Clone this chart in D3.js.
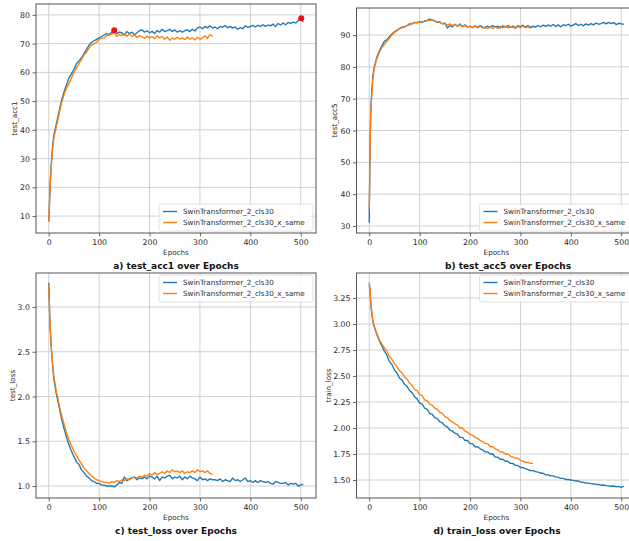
<!DOCTYPE html>
<html>
<head>
<meta charset="utf-8">
<script src="https://cdn.jsdelivr.net/npm/d3@7"></script>
<style>
  body { margin: 0; background: #fff; }
  text { font-family: "DejaVu Sans", sans-serif; fill: #2a2a2a; }
  .grid line { stroke: #d0d0d0; stroke-width: 1; }
  .frame { fill: none; stroke: #555; stroke-width: 1; }
  .title { font-weight: bold; fill: #111; }
</style>
</head>
<body>
<div class="chart"></div>
<script>
// sampled epochs (dense at start, then every 5 epochs)
var epochs = [0, 1, 2, 3, 5, 7].concat(d3.range(10, 510, 5));

var seriesNames = ['SwinTransformer_2_cls30', 'SwinTransformer_2_cls30_x_same'];
var xTicks = [0, 100, 200, 300, 400, 500];

var acc1Base = [
  8, 12, 17, 22, 28, 33, 38, 42, 46, 50,
  53, 55.5, 58, 59.5, 61, 63, 64, 65, 66.5, 68,
  69.5, 70.5, 71, 71.5, 72, 72.5, 73, 73.5, 73.2, 74,
  74.5, 73.5, 74, 73.8, 73, 74.2, 73.5, 74, 73, 73.8,
  74.5, 74.8, 74, 74.5, 73.8, 74.3, 73.5, 74.6, 74, 75,
  74.2, 74.5, 75, 74.2, 74.8, 74, 74.6, 74, 74.5, 74.8,
  74.2, 75, 74.4, 75.5, 75.8, 75.2, 76, 75.5, 76.2, 75.4,
  75.8, 75.2, 76, 75.7, 76.3, 75.5, 76, 75.4, 75.8, 75,
  75.6, 75.2, 76.2, 75.6, 76, 76.4, 75.8, 76.4, 76, 76.6,
  76, 76.5, 76.2, 76.8, 76, 77, 76.5, 77.2, 76.6, 77.4,
  77, 77.5, 77.2, 78, 78.6, 77.5
];
var acc1Same = [
  8, 12, 16, 21, 27, 32, 37, 41, 45, 49,
  52, 54.5, 56, 58, 60, 61.5, 63, 64.5, 66, 67,
  68.5, 69.5, 70, 70.5, 71.5, 72, 72, 72.8, 73, 73.3,
  73.8, 72.5, 73.2, 72.8, 73.5, 72.6, 73.4, 72.5, 73, 72.2,
  72.8, 72.4, 71.8, 72.6, 72, 72.5, 71.8, 72.7, 72, 72.5,
  71.5, 72.3, 71.2, 72, 71.5, 72.2, 71.6, 72, 71.4, 72.3,
  71.6, 72, 71.3, 72.2, 71.5, 72, 72.8, 71.8, 73.2, 72.5
];
var acc1PeakEpochs = [130, 501];
var acc1PeakValues = [74.7, 78.8];

var acc5Base = [
  31, 45, 58, 66, 72, 77, 80, 83, 85, 86.5,
  88, 88.5, 89.5, 90.3, 91, 91.5, 92, 92.5, 92.6, 93,
  93.5, 93.6, 94, 93.8, 94.2, 94, 94.5, 94.6, 95, 94.8,
  94.5, 94, 94.2, 93.5, 93.8, 92.2, 93, 92.6, 93.4, 92.8,
  93.5, 92.6, 93.2, 92.5, 92.8, 92.3, 92.9, 92.4, 93, 92.5,
  92.2, 92.8, 92.4, 93, 92.5, 92.8, 92.2, 92.9, 92.5, 93,
  92.4, 92.8, 92.3, 93, 92.6, 93.1, 92.5, 93, 92.4, 92.8,
  92.5, 93, 92.6, 93.1, 92.7, 93.2, 92.8, 93.3, 92.7, 93.2,
  92.6, 93.2, 93, 93.4, 92.8, 93.2, 93.6, 93, 93.4, 92.9,
  93.5, 93.1, 93.6, 93.2, 93.8, 93.4, 93.6, 94, 93.5, 94,
  93.6, 93.9, 93.3, 93.7, 93.5, 93.4
];
var acc5Same = [
  35, 47, 57, 65, 71, 76, 79.5, 82.5, 84.5, 86,
  87, 88, 89, 90, 90.8, 91.3, 92, 92.3, 92.5, 93,
  93.2, 93.5, 93.8, 94, 94, 94.2, 94.3, 94.5, 94.6, 94.8,
  94.3, 94.2, 94, 93.6, 93.5, 93.2, 93.5, 93, 93.3, 92.8,
  93.2, 92.7, 93, 92.5, 92.8, 92.4, 92.8, 92.2, 92.7, 92.2,
  92.6, 92.1, 92.5, 92, 92.6, 92.1, 92.7, 92.3, 92.8, 92.2,
  92.7, 92.4, 92.1, 92.7, 92.3, 92.8, 92.3, 92.6, 92.2, 92.5
];

var testLossBase = [
  3.27, 3.1, 2.9, 2.75, 2.55, 2.4, 2.2, 2.03, 1.9, 1.76,
  1.65, 1.55, 1.46, 1.39, 1.33, 1.27, 1.24, 1.18, 1.15, 1.11,
  1.09, 1.06, 1.05, 1.03, 1.03, 1.01, 1.01, 1.0, 1.0, 1.0,
  0.99, 1.01, 1.04, 1.03, 1.1, 1.06, 1.08, 1.09, 1.1, 1.07,
  1.09, 1.08, 1.1, 1.08, 1.11, 1.1, 1.08, 1.11, 1.06, 1.1,
  1.09, 1.11, 1.12, 1.08, 1.1, 1.09, 1.11, 1.07, 1.1, 1.08,
  1.11, 1.09, 1.08, 1.06, 1.1, 1.07, 1.08, 1.06, 1.08, 1.07,
  1.07, 1.06, 1.08, 1.05, 1.07, 1.06, 1.05, 1.09, 1.06, 1.07,
  1.05, 1.07, 1.09, 1.05, 1.06, 1.04, 1.06, 1.04, 1.06, 1.05,
  1.04, 1.05, 1.03, 1.02, 1.05, 1.04, 1.03, 1.03, 1.04, 1.01,
  1.03, 1.02, 1.03, 1.0, 1.01, 1.02
];
var testLossSame = [
  3.25, 3.08, 2.9, 2.76, 2.56, 2.42, 2.23, 2.06, 1.93, 1.8,
  1.7, 1.6, 1.52, 1.45, 1.39, 1.34, 1.29, 1.25, 1.2, 1.17,
  1.14, 1.11, 1.09, 1.07, 1.06, 1.05, 1.04, 1.04, 1.03, 1.05,
  1.04, 1.06, 1.05, 1.07, 1.06, 1.08, 1.07, 1.09, 1.1, 1.09,
  1.11, 1.1, 1.12, 1.11, 1.14, 1.12, 1.15, 1.13, 1.14, 1.16,
  1.14, 1.17, 1.15, 1.18, 1.16, 1.17, 1.15, 1.17, 1.14, 1.16,
  1.15, 1.17, 1.15, 1.18, 1.16, 1.17, 1.15, 1.17, 1.14, 1.13
];

var trainLossBase = [
  3.38, 3.34, 3.28, 3.2, 3.1, 3.03, 2.97, 2.9, 2.84, 2.79,
  2.74, 2.7, 2.64, 2.61, 2.56, 2.53, 2.48, 2.46, 2.42, 2.4,
  2.36, 2.34, 2.3, 2.28, 2.24, 2.23, 2.19, 2.18, 2.14, 2.13,
  2.1, 2.09, 2.06, 2.05, 2.02, 2.01, 1.98, 1.97, 1.95, 1.94,
  1.91, 1.91, 1.88, 1.88, 1.85, 1.85, 1.82, 1.82, 1.8, 1.79,
  1.77, 1.77, 1.75, 1.75, 1.72, 1.72, 1.7, 1.7, 1.68, 1.68,
  1.66, 1.66, 1.64, 1.64, 1.62, 1.62, 1.61, 1.6, 1.59, 1.59,
  1.58, 1.575, 1.565, 1.565, 1.55, 1.55, 1.54, 1.54, 1.53, 1.525,
  1.515, 1.515, 1.505, 1.505, 1.5, 1.497, 1.49, 1.49, 1.48, 1.478,
  1.47, 1.47, 1.465, 1.462, 1.458, 1.457, 1.45, 1.452, 1.445, 1.443,
  1.44, 1.442, 1.435, 1.438, 1.43, 1.44
];
var trainLossSame = [
  3.4, 3.36, 3.3, 3.22, 3.12, 3.04, 2.98, 2.91, 2.85, 2.81,
  2.77, 2.74, 2.69, 2.66, 2.62, 2.59, 2.55, 2.53, 2.49, 2.47,
  2.43, 2.41, 2.37, 2.36, 2.32, 2.31, 2.27, 2.26, 2.23, 2.22,
  2.19, 2.18, 2.15, 2.14, 2.11, 2.1, 2.07, 2.06, 2.04, 2.03,
  2.0, 2.0, 1.97, 1.96, 1.94, 1.93, 1.91, 1.9, 1.88, 1.87,
  1.85, 1.85, 1.82, 1.82, 1.8, 1.79, 1.77, 1.77, 1.75, 1.75,
  1.73, 1.72, 1.71, 1.71, 1.69, 1.68, 1.67, 1.67, 1.66, 1.66
];

var acc1Ticks = [10, 20, 30, 40, 50, 60, 70, 80];
var acc5Ticks = [30, 40, 50, 60, 70, 80, 90];
var testLossTicks = [1.0, 1.5, 2.0, 2.5, 3.0];
var trainLossTicks = [1.50, 1.75, 2.00, 2.25, 2.50, 2.75, 3.00, 3.25];

function init() {
  var width = 629,
      height = 541,
      colors = ['#1f77b4', '#ff7f0e'];

  var svg = d3.select('.chart')
    .append('svg')
      .attr('width', width)
      .attr('height', height);

  svg.append('rect')
      .attr('width', width)
      .attr('height', height)
      .attr('fill', '#fff');

  function drawPanel(p) {
    var x = d3.scaleLinear().domain([-25.25, 530.25]).range([p.left, p.left + 280]);
    var y = d3.scaleLinear().domain(p.yDomain).range([p.bottom, p.top]);
    var g = svg.append('g');

    // grid
    var grid = g.append('g').attr('class', 'grid');
    grid.selectAll('line.gx').data(xTicks).enter().append('line')
        .attr('x1', x).attr('x2', x)
        .attr('y1', p.top).attr('y2', p.bottom);
    grid.selectAll('line.gy').data(p.yTicks).enter().append('line')
        .attr('x1', p.left).attr('x2', p.left + 280)
        .attr('y1', y).attr('y2', y);

    // series
    var line = d3.line()
      .x(function(d) { return x(d[0]); })
      .y(function(d) { return y(d[1]); });

    p.series.forEach(function(vals, i) {
      g.append('path')
          .datum(vals.map(function(v, k) { return [epochs[k], v]; }))
          .attr('fill', 'none')
          .attr('stroke', colors[i])
          .attr('stroke-width', 1.35)
          .attr('stroke-linejoin', 'round')
          .attr('d', line);
    });

    if (p.peaks) {
      g.selectAll('circle.peak').data(p.peaks[0]).enter().append('circle')
          .attr('cx', function(d) { return x(d); })
          .attr('cy', function(d, i) { return y(p.peaks[1][i]); })
          .attr('r', 3)
          .attr('fill', '#f01010');
    }

    g.append('rect')
        .attr('class', 'frame')
        .attr('x', p.left).attr('y', p.top)
        .attr('width', 280).attr('height', p.bottom - p.top);

    // axes
    var xAxis = d3.axisBottom(x).tickValues(xTicks).tickSize(3.5).tickPadding(2.5).tickFormat(d3.format('d'));
    var gx = g.append('g').attr('transform', 'translate(0,' + p.bottom + ')').call(xAxis);
    var yAxis = d3.axisLeft(y).tickValues(p.yTicks).tickSize(3.5).tickPadding(2.5).tickFormat(d3.format(p.yFormat));
    var gy = g.append('g').attr('transform', 'translate(' + p.left + ',0)').call(yAxis);
    [gx, gy].forEach(function(a) {
      a.select('.domain').remove();
      a.selectAll('.tick line').attr('stroke', '#555').attr('stroke-width', 0.9);
      a.selectAll('.tick text').attr('fill', '#2a2a2a').style('font-size', '7.8px')
          .style('font-family', '"DejaVu Sans", sans-serif');
    });

    g.append('text')
        .attr('x', p.left + 140)
        .attr('y', p.bottom + 22)
        .attr('text-anchor', 'middle')
        .style('font-size', '7.2px')
        .text('Epochs');

    g.append('text')
        .attr('transform', 'translate(' + p.yLabelX + ',' + ((p.top + p.bottom) / 2) + ') rotate(-90)')
        .attr('text-anchor', 'middle')
        .attr('dy', '0.35em')
        .style('font-size', '7.2px')
        .text(p.yLabel);

    g.append('text')
        .attr('class', 'title')
        .attr('x', p.titleX)
        .attr('y', p.bottom + 36)
        .attr('text-anchor', 'middle')
        .style('font-size', '9px')
        .text(p.title);

    // legend
    var lx = p.left + 280 - 157, ly = p.legendTop;
    var leg = g.append('g');
    leg.append('rect')
        .attr('x', lx).attr('y', ly)
        .attr('width', 154).attr('height', 27)
        .attr('rx', 2)
        .attr('fill', '#fff').attr('fill-opacity', 0.85)
        .attr('stroke', '#d8d8d8').attr('stroke-width', 0.8);
    seriesNames.forEach(function(name, i) {
      var yy = ly + 7.5 + i * 11;
      leg.append('line')
          .attr('x1', lx + 4).attr('x2', lx + 18)
          .attr('y1', yy).attr('y2', yy)
          .attr('stroke', colors[i]).attr('stroke-width', 1.4);
      leg.append('text')
          .attr('x', lx + 24).attr('y', yy)
          .attr('dy', '0.35em')
          .style('font-size', '7.2px')
          .text(name);
    });
  }

  drawPanel({
    left: 36, top: 4, bottom: 233, yDomain: [4.1, 83.8], yTicks: acc1Ticks, yFormat: 'd',
    series: [acc1Base, acc1Same], peaks: [acc1PeakEpochs, acc1PeakValues],
    yLabel: 'test_acc1', yLabelX: 14, title: 'a) test_acc1 over Epochs', titleX: 176, legendTop: 204
  });
  drawPanel({
    left: 356.5, top: 8, bottom: 233, yDomain: [27.8, 98.5], yTicks: acc5Ticks, yFormat: 'd',
    series: [acc5Base, acc5Same],
    yLabel: 'test_acc5', yLabelX: 334, title: 'b) test_acc5 over Epochs', titleX: 508, legendTop: 204
  });
  drawPanel({
    left: 36, top: 273, bottom: 498, yDomain: [0.866, 3.38], yTicks: testLossTicks, yFormat: '.1f',
    series: [testLossBase, testLossSame],
    yLabel: 'test_loss', yLabelX: 12, title: 'c) test_loss over Epochs', titleX: 176, legendTop: 275
  });
  drawPanel({
    left: 356.5, top: 273, bottom: 498, yDomain: [1.327, 3.49], yTicks: trainLossTicks, yFormat: '.2f',
    series: [trainLossBase, trainLossSame],
    yLabel: 'train_loss', yLabelX: 328, title: 'd) train_loss over Epochs', titleX: 497, legendTop: 275
  });
}

d3.select(window).on('load', init);
</script>
</body>
</html>
